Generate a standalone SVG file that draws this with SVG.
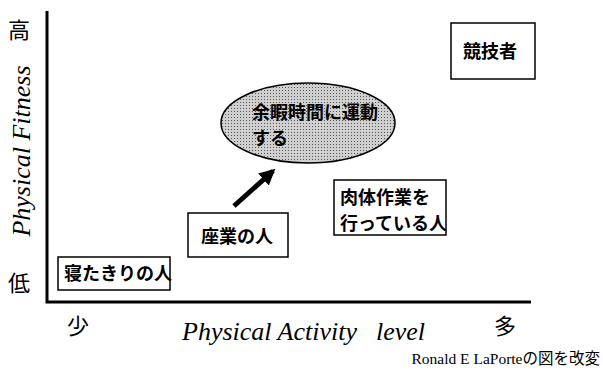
<svg xmlns="http://www.w3.org/2000/svg" width="603" height="372" viewBox="0 0 603 372">
<style>
.box{fill:#fff;stroke:#000;stroke-width:1.5}
.jp{font-family:"Noto Sans CJK JP","Liberation Sans",sans-serif;font-weight:bold;font-size:18px;fill:#000}
.ax{font-family:"Noto Sans CJK JP",sans-serif;font-size:22px;fill:#000}
.it{font-family:"Liberation Serif",serif;font-style:italic;font-size:26px;fill:#000}
</style>
<defs>
<pattern id="dots" width="3" height="3" patternUnits="userSpaceOnUse">
<rect width="3" height="3" fill="#d0d0d0"/>
<rect width="1" height="1" fill="#555"/>
</pattern>
<marker id="ah" viewBox="0 0 10 10" refX="8" refY="5" markerWidth="3.2" markerHeight="3.2" orient="auto">
<path d="M0,0 L10,5 L0,10 Z" fill="#000"/>
</marker>
</defs>
<g id="axes" fill="none" stroke="#000" stroke-width="3">
<path d="M47,11 V302 H531"/>
</g>
<text class="ax" x="19" y="38" text-anchor="middle">高</text>
<text class="ax" x="19" y="291" text-anchor="middle">低</text>
<text class="it" transform="translate(30,151) rotate(-90)" text-anchor="middle">Physical Fitness</text>
<text class="ax" x="78" y="334" text-anchor="middle">少</text>
<text class="ax" x="505" y="334" text-anchor="middle">多</text>
<text class="it" x="182" y="340">Physical Activity</text>
<text class="it" x="376" y="340">level</text>
<text x="600" y="364" text-anchor="end" font-family="Liberation Serif,'Noto Sans CJK JP',serif" font-size="15.5">Ronald E LaPorteの図を改変</text>
<g id="n_bed"><rect class="box" x="58" y="257" width="112" height="33"/><text class="jp" x="64" y="280">寝たきりの人</text></g>
<g id="n_desk"><rect class="box" x="188" y="213" width="100" height="44"/><text class="jp" x="201" y="243">座業の人</text></g>
<g id="n_athlete"><rect class="box" x="451" y="23" width="84" height="56"/><text class="jp" x="463" y="58">競技者</text></g>
<g id="n_labor"><rect class="box" x="334" y="180" width="112" height="55"/><text class="jp" x="340" y="204">肉体作業を</text><text class="jp" x="340" y="230">行っている人</text></g>
<g id="n_leisure"><ellipse cx="308" cy="123" rx="87" ry="40" fill="url(#dots)" stroke="#000" stroke-width="1.5"/><text class="jp" x="252" y="119">余暇時間に運動</text><text class="jp" x="252" y="145">する</text></g>
<g id="connectors"><line x1="234" y1="206" x2="273" y2="171" stroke="#000" stroke-width="5" marker-end="url(#ah)"/></g>
</svg>
